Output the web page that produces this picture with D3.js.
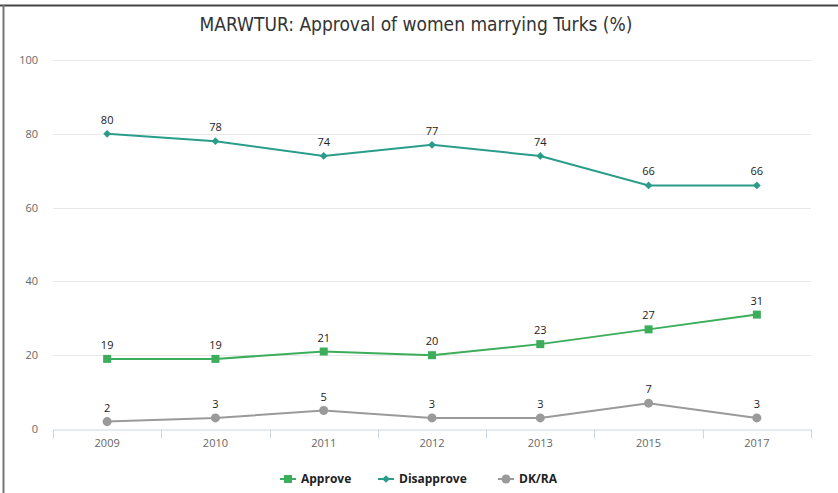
<!DOCTYPE html>
<html>
<head>
<meta charset="utf-8">
<script src="https://cdn.jsdelivr.net/npm/d3@7"></script>
<style>
  body { margin: 0; background: #fff; }
  svg { display: block; font-family: "Open Sans", "DejaVu Sans", sans-serif; }
</style>
</head>
<body>
<div id="chart"></div>
<script>
const years = ["2009", "2010", "2011", "2012", "2013", "2015", "2017"]
const approve = [19, 19, 21, 20, 23, 27, 31]
const disapprove = [80, 78, 74, 77, 74, 66, 66]
const dkra = [2, 3, 5, 3, 3, 7, 3]
const yTicks = [0, 20, 40, 60, 80, 100]

const series = [
  { name: "Approve", values: approve, color: "#3cad5a", shape: "square" },
  { name: "Disapprove", values: disapprove, color: "#2a9d8a", shape: "diamond" },
  { name: "DK/RA", values: dkra, color: "#9a9a9a", shape: "circle" }
]

const W = 838, H = 493
const MARGIN = { TOP: 60, BOTTOM: 64, LEFT: 53, RIGHT: 27 }

const svg = d3.select("#chart").append("svg")
  .attr("width", W)
  .attr("height", H)

// frame
svg.append("line")
  .attr("x1", 0).attr("x2", W).attr("y1", 5.5).attr("y2", 5.5)
  .attr("stroke", "#444").attr("stroke-width", 2)
svg.append("line")
  .attr("x1", 3.5).attr("x2", 3.5).attr("y1", 5).attr("y2", H)
  .attr("stroke", "#777").attr("stroke-width", 2)

svg.append("text")
  .attr("x", 416).attr("y", 31)
  .attr("text-anchor", "middle")
  .attr("font-family", "'Liberation Sans Narrow', 'DejaVu Sans Condensed', sans-serif")
  .attr("font-size", "19px")
  .attr("fill", "#333")
  .text("MARWTUR: Approval of women marrying Turks (%)")

const x = d3.scaleBand()
  .domain(years)
  .range([MARGIN.LEFT, W - MARGIN.RIGHT])

const y = d3.scaleLinear()
  .domain([0, 100])
  .range([H - MARGIN.BOTTOM, MARGIN.TOP])

// gridlines
svg.append("g")
  .selectAll("line")
  .data(yTicks.filter(d => d > 0))
  .join("line")
    .attr("x1", MARGIN.LEFT).attr("x2", W - MARGIN.RIGHT)
    .attr("y1", d => Math.round(y(d)) + 0.5).attr("y2", d => Math.round(y(d)) + 0.5)
    .attr("stroke", "#e8e8e8")

// y axis labels
svg.append("g")
  .selectAll("text")
  .data(yTicks)
  .join("text")
    .attr("x", 38)
    .attr("y", d => y(d) + 4)
    .attr("text-anchor", "end")
    .attr("font-size", "11px")
    .attr("fill", "#666")
    .text(d => d)

// x axis
const xAxis = svg.append("g")
  .attr("transform", `translate(0, ${Math.round(y(0)) + 0.5})`)
  .call(d3.axisBottom(x).tickSize(0).tickPadding(10))
xAxis.select(".domain").attr("stroke", "#ccd6e0")
xAxis.selectAll("text").attr("font-size", "11px").attr("fill", "#666")
  .attr("font-family", "'Open Sans', sans-serif")
xAxis.selectAll(".sep")
  .data(d3.range(years.length + 1))
  .join("line")
    .attr("class", "sep")
    .attr("x1", i => Math.round(MARGIN.LEFT + i * x.bandwidth()) + 0.5)
    .attr("x2", i => Math.round(MARGIN.LEFT + i * x.bandwidth()) + 0.5)
    .attr("y1", 0).attr("y2", 9)
    .attr("stroke", "#ccd6e0")

const cx = d => x(d) + x.bandwidth() / 2

const line = d3.line()
  .x((d, i) => cx(years[i]))
  .y(d => y(d))

const symbolFor = {
  square: { d: d3.symbol(d3.symbolSquare, 64)(), rot: 0 },
  diamond: { d: d3.symbol(d3.symbolSquare, 30)(), rot: 45 },
  circle: { d: d3.symbol(d3.symbolCircle, 64)(), rot: 0 }
}

series.forEach(s => {
  const g = svg.append("g")
  const sym = symbolFor[s.shape]
  g.append("path")
    .datum(s.values)
    .attr("fill", "none")
    .attr("stroke", s.color)
    .attr("stroke-width", 2)
    .attr("d", line)

  g.selectAll("path.pt")
    .data(s.values)
    .join("path")
      .attr("class", "pt")
      .attr("transform", (d, i) => `translate(${cx(years[i])}, ${y(d)}) rotate(${sym.rot})`)
      .attr("d", sym.d)
      .attr("fill", s.color)

  g.selectAll("text")
    .data(s.values)
    .join("text")
      .attr("x", (d, i) => cx(years[i]))
      .attr("y", d => y(d) - 10)
      .attr("text-anchor", "middle")
      .attr("font-size", "11px")
      .attr("fill", "#222")
      .text(d => d)
})

// legend
const legendX = [280, 378, 498]
const legend = svg.append("g")
series.forEach((s, i) => {
  const sym = symbolFor[s.shape]
  const lg = legend.append("g").attr("transform", `translate(${legendX[i]}, 479)`)
  lg.append("line")
    .attr("x1", 0).attr("x2", 16).attr("y1", 0).attr("y2", 0)
    .attr("stroke", s.color).attr("stroke-width", 2)
  lg.append("path")
    .attr("transform", `translate(8, 0) rotate(${sym.rot})`)
    .attr("d", sym.d)
    .attr("fill", s.color)
  lg.append("text")
    .attr("x", 21).attr("y", 4)
    .attr("font-size", "12px")
    .attr("font-weight", "bold")
    .attr("fill", "#222")
    .text(s.name)
})
</script>
</body>
</html>
